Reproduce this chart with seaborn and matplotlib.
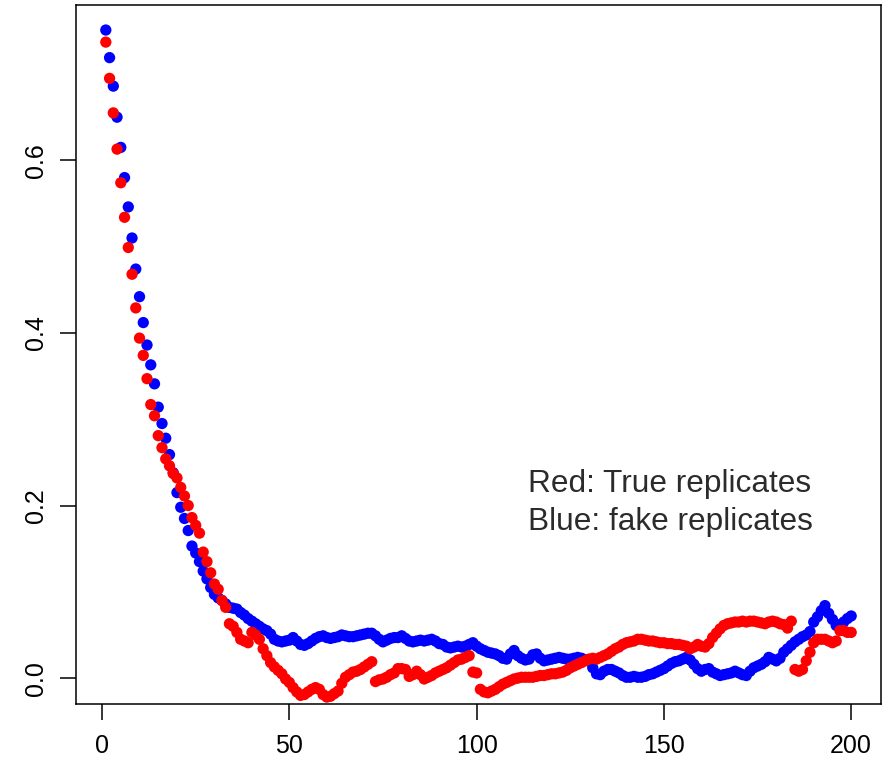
import numpy as np
import pandas as pd
import matplotlib
matplotlib.use("Agg")
import matplotlib.pyplot as plt
import seaborn as sns

# ---- data ----
idx = list(range(1, 201))

blue_vals = [
    0.751, 0.719, 0.686, 0.650, 0.615, 0.580, 0.546, 0.510, 0.474, 0.442,
    0.412, 0.386, 0.363, 0.341, 0.314, 0.295, 0.278, 0.259, 0.238, 0.215,
    0.198, 0.185, 0.171, 0.153, 0.145, 0.135, 0.124, 0.115, 0.105, 0.097,
    0.093, 0.090, 0.086, 0.082, 0.081, 0.080, 0.076, 0.073, 0.069, 0.066,
    0.063, 0.060, 0.057, 0.055, 0.051, 0.045, 0.043, 0.042, 0.043, 0.044,
    0.047, 0.043, 0.039, 0.038, 0.040, 0.043, 0.046, 0.048, 0.049, 0.047,
    0.046, 0.047, 0.048, 0.050, 0.049, 0.048, 0.048, 0.049, 0.050, 0.051,
    0.052, 0.052, 0.049, 0.045, 0.042, 0.044, 0.046, 0.047, 0.047, 0.049,
    0.046, 0.043, 0.042, 0.043, 0.044, 0.043, 0.044, 0.045, 0.043, 0.040,
    0.039, 0.036, 0.035, 0.036, 0.037, 0.036, 0.037, 0.039, 0.041, 0.037,
    0.034, 0.032, 0.030, 0.029, 0.028, 0.026, 0.023, 0.022, 0.028, 0.032,
    0.026, 0.023, 0.021, 0.022, 0.027, 0.028, 0.023, 0.020, 0.021, 0.022,
    0.023, 0.024, 0.023, 0.022, 0.022, 0.023, 0.024, 0.023, 0.021, 0.020,
    0.012, 0.005, 0.004, 0.008, 0.010, 0.010, 0.008, 0.006, 0.003, 0.001,
    0.001, 0.002, 0.001, 0.001, 0.002, 0.004, 0.005, 0.007, 0.009, 0.011,
    0.014, 0.017, 0.019, 0.020, 0.022, 0.024, 0.021, 0.016, 0.011, 0.008,
    0.010, 0.011, 0.007, 0.005, 0.003, 0.004, 0.005, 0.006, 0.008, 0.006,
    0.004, 0.003, 0.008, 0.012, 0.014, 0.016, 0.019, 0.024, 0.022, 0.020,
    0.023, 0.030, 0.034, 0.038, 0.042, 0.045, 0.048, 0.050, 0.054, 0.065,
    0.071, 0.078, 0.084, 0.075, 0.068, 0.061, 0.062, 0.065, 0.069, 0.072,
]

red_vals = [
    0.737, 0.695, 0.655, 0.613, 0.574, 0.534, 0.499, 0.468, 0.429, 0.394,
    0.374, 0.347, 0.317, 0.304, 0.281, 0.267, 0.254, 0.246, 0.237, 0.232,
    0.221, 0.211, 0.200, 0.186, 0.177, 0.168, 0.146, 0.135, 0.122, 0.109,
    0.103, 0.090, 0.082, 0.063, 0.060, 0.053, 0.045, 0.043, 0.041, 0.053,
    0.050, 0.045, 0.034, 0.026, 0.018, 0.013, 0.009, 0.005, -0.001, -0.005,
    -0.011, -0.016, -0.020, -0.019, -0.016, -0.013, -0.011, -0.013, -0.019, -0.022,
    -0.021, -0.018, -0.015, -0.006, 0.001, 0.004, 0.007, 0.008, 0.010, 0.013,
    0.016, 0.019, -0.004, -0.002, -0.001, 0.001, 0.004, 0.006, 0.011, 0.011,
    0.010, 0.002, 0.004, 0.008, 0.004, -0.001, 0.001, 0.003, 0.006, 0.008,
    0.010, 0.012, 0.015, 0.018, 0.021, 0.022, 0.024, 0.026, 0.007, 0.006,
    -0.013, -0.016, -0.017, -0.015, -0.013, -0.010, -0.007, -0.005, -0.003, -0.001,
    0.000, 0.001, 0.001, 0.001, 0.001, 0.002, 0.003, 0.003, 0.004, 0.005,
    0.005, 0.006, 0.007, 0.009, 0.012, 0.014, 0.016, 0.018, 0.020, 0.022,
    0.023, 0.022, 0.024, 0.026, 0.028, 0.031, 0.034, 0.036, 0.039, 0.041,
    0.042, 0.043, 0.045, 0.045, 0.044, 0.043, 0.043, 0.042, 0.041, 0.041,
    0.040, 0.040, 0.039, 0.039, 0.038, 0.037, 0.034, 0.036, 0.039, 0.037,
    0.036, 0.040, 0.047, 0.052, 0.057, 0.061, 0.063, 0.064, 0.065, 0.065,
    0.066, 0.065, 0.066, 0.066, 0.065, 0.064, 0.063, 0.065, 0.066, 0.065,
    0.063, 0.062, 0.058, 0.066, 0.010, 0.008, 0.010, 0.020, 0.030, 0.041,
    0.045, 0.045, 0.045, 0.043, 0.041, 0.043, 0.055, 0.055, 0.053, 0.053,
]

x_ticks = [0, 50, 100, 150, 200]
y_ticks = [0.0, 0.2, 0.4, 0.6]
y_tick_labels = ["0.0", "0.2", "0.4", "0.6"]
legend_lines = ["Red: True replicates", "Blue: fake replicates"]

# ---- build long table ----
df = pd.DataFrame({
    "index": idx + idx,
    "value": blue_vals + red_vals,
    "series": ["blue"] * len(blue_vals) + ["red"] * len(red_vals),
})

sns.set_theme(style="white")
plt.rcParams["font.family"] = ["Liberation Sans", "DejaVu Sans"]

W, H = 884, 767
fig = plt.figure(figsize=(W / 100, H / 100), dpi=100)
left, right, top, bottom = 76, 881, 5, 704
ax = fig.add_axes([left / W, (H - bottom) / H, (right - left) / W, (bottom - top) / H])

sns.scatterplot(
    data=df, x="index", y="value", hue="series",
    palette={"blue": "#0000FF", "red": "#FF0000"},
    s=66, linewidth=0, legend=False, ax=ax,
)

ax.set_xlim(-6.96, 207.96)
ax.set_ylim(-0.03, 0.78)
ax.set_xlabel("")
ax.set_ylabel("")
ax.set_xticks(x_ticks)
ax.set_xticklabels([str(t) for t in x_ticks])
ax.set_yticks(y_ticks)
ax.set_yticklabels(y_tick_labels, rotation=90, va="center")

for sp in ax.spines.values():
    sp.set_visible(True)
    sp.set_color("black")
    sp.set_linewidth(1.1)

ax.tick_params(axis="both", which="major", direction="out", length=11.5,
               width=1.1, color="black", labelsize=18, labelcolor="black",
               bottom=True, left=True)
ax.tick_params(axis="x", pad=10)
ax.tick_params(axis="y", pad=9)

ax.text(113.8, 0.2155, legend_lines[0], fontsize=22.8, color="#2b2b2b",
        ha="left", va="baseline")
ax.text(113.8, 0.1715, legend_lines[1], fontsize=22.8, color="#2b2b2b",
        ha="left", va="baseline")

fig.savefig("out.png", dpi=100, facecolor="white")
